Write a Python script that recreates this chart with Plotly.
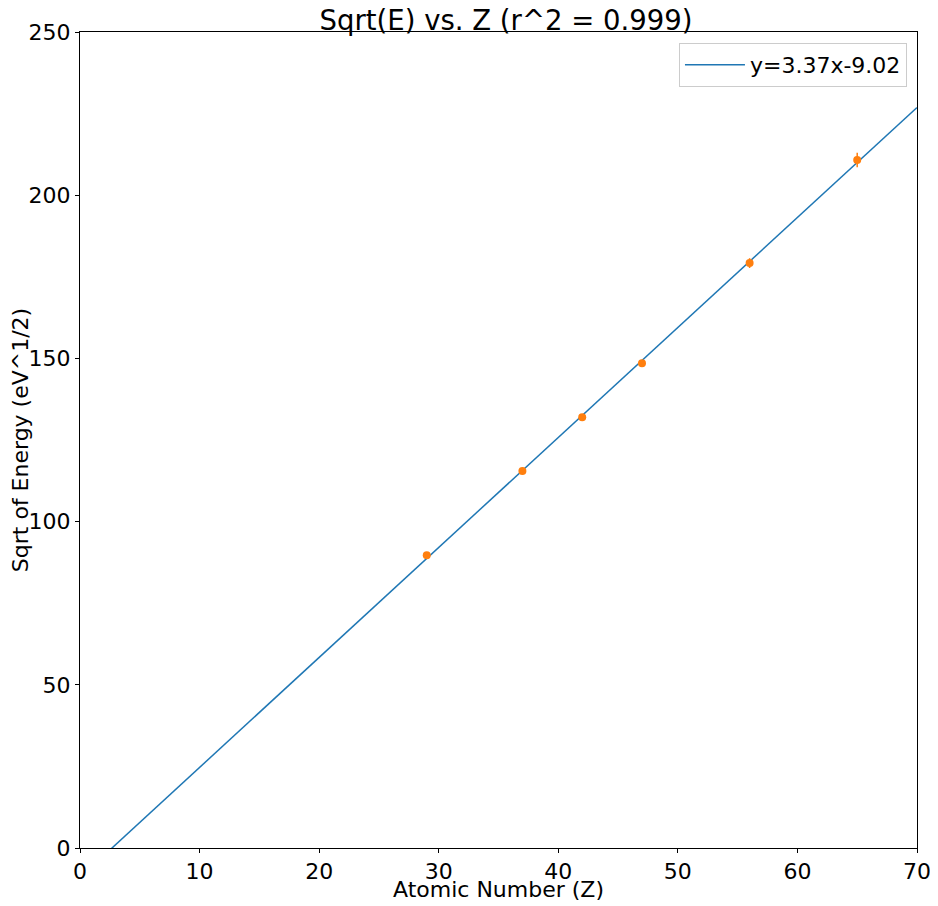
import plotly.graph_objects as go

# measured data
atomic_number = [29, 37, 42, 47, 56, 65]
sqrt_energy = [89.7, 115.5, 132.0, 148.5, 179.2, 210.8]
sqrt_energy_err = [0.6, 0.7, 0.8, 0.9, 1.5, 2.2]

# linear fit y = 3.37x - 9.02, drawn across the x range
fit_x = [0, 70]
fit_y = [-9.02, 226.88]
fit_label = "y=3.37x-9.02"

FONT = "DejaVu Sans"

fig = go.Figure()
fig.add_trace(go.Scatter(
    x=fit_x, y=fit_y, mode="lines", name=fit_label,
    line=dict(color="#1f77b4", width=1.5),
))
fig.add_trace(go.Scatter(
    x=atomic_number, y=sqrt_energy, mode="markers", showlegend=False,
    marker=dict(color="#ff7f0e", size=8),
    error_y=dict(type="data", array=sqrt_energy_err, color="#ff7f0e",
                 thickness=1.5, width=0),
))

axis_style = dict(
    showgrid=False, zeroline=False, showline=True, mirror=True,
    linecolor="black", linewidth=1, ticks="outside", ticklen=4,
    tickcolor="black", tickfont=dict(size=22, color="black"),
    automargin=False,
)

# page body has an 8px margin, so the figure is a bit smaller than the window
fig.update_layout(
    width=930, height=898,
    margin=dict(l=72, r=21, t=24, b=58, autoexpand=False),
    paper_bgcolor="white", plot_bgcolor="white",
    font=dict(family=FONT, color="black"),
    title=dict(text="Sqrt(E) vs. Z (r^2 = 0.999)", x=0.5355, xanchor="center",
               y=0.9865, yanchor="middle", font=dict(size=27.5)),
    xaxis=dict(range=[0, 70], dtick=10, **axis_style),
    yaxis=dict(range=[0, 250], dtick=50,
               title=dict(text="Sqrt of Energy (eV^1/2)", font=dict(size=22), standoff=8),
               **axis_style),
    legend=dict(x=0.988, y=0.9865, xanchor="right", yanchor="top",
                bordercolor="#cccccc", borderwidth=1, bgcolor="white",
                font=dict(size=22), itemwidth=60),
)

# x title as an annotation so it can sit closer to the tick labels
fig.add_annotation(text="Atomic Number (Z)", xref="paper", yref="paper",
                   x=0.5, y=0, yshift=-41, xanchor="center", yanchor="middle",
                   showarrow=False, font=dict(size=22))

fig.write_html("out.html")
